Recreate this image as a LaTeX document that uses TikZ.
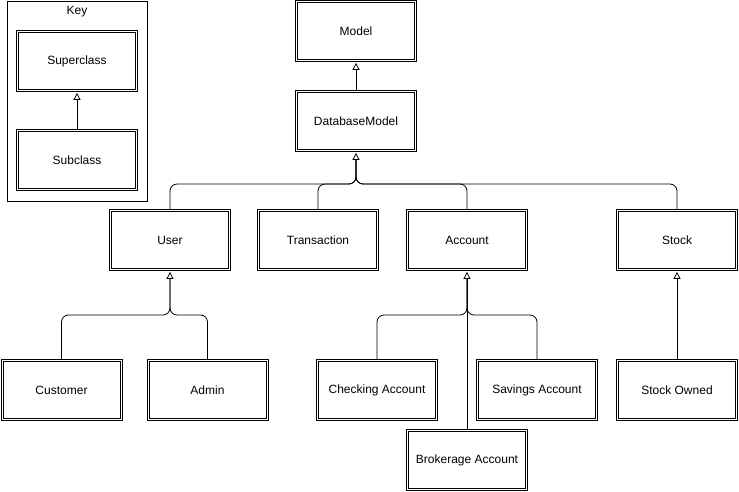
\documentclass[tikz,border=0pt]{standalone}
\usepackage{fontspec}
\setmainfont{Liberation Sans}
\usetikzlibrary{arrows.meta}
\begin{document}
\begin{tikzpicture}[x=1pt,y=-1pt,
  cls/.style={draw, line width=0.8pt,
    minimum width=121pt, minimum height=61pt, inner sep=0pt,
    font=\fontsize{12}{14}\selectfont,
    append after command={\pgfextra{\draw[line width=0.8pt]
      ([shift={(2.3pt,2.3pt)}]\tikzlastnode.south west) rectangle
      ([shift={(-2.3pt,-2.3pt)}]\tikzlastnode.north east);}}},
  edge/.style={line width=0.8pt, rounded corners=7pt,
    -{Triangle[open, length=7pt, width=7pt]}, shorten >=1pt},
  link/.style={line width=0.8pt, rounded corners=7pt, shorten >=8pt},
  plain/.style={line width=0.8pt, sharp corners,
    -{Triangle[open, length=7pt, width=7pt]}, shorten >=1pt}]
\useasboundingbox (0,0) rectangle (739,492);
% Key
\node[draw, line width=0.8pt, minimum width=140pt, minimum height=200pt, inner sep=0pt] (keybox) at (77,101) {};
\node[font=\fontsize{12}{14}\selectfont] (keylabel) at (77,12) {Key};
\node[cls] (super) at (77,61) {Superclass};
\node[cls] (sub) at (77,160) {Subclass};
\draw[plain] (sub.north) -- (super.south);
% Top
\node[cls] (model) at (356,31) {Model};
\node[cls] (db) at (356,121) {DatabaseModel};
\draw[plain] (db.north) -- (model.south);
% Level 2
\node[cls] (user) at (170,240) {User};
\node[cls] (trans) at (318,240) {Transaction};
\node[cls] (acct) at (467,240) {Account};
\node[cls] (stock) at (677,240) {Stock};
\coordinate (j1) at (356,184);
\draw[edge] (user.north) |- (j1) -- (db.south);
\draw[link] (trans.north) |- (j1) -- (db.south);
\draw[link] (acct.north) |- (j1) -- (db.south);
\draw[link] (stock.north) -- (stock.north |- j1) [rounded corners=7pt] -- (j1) -- (db.south);
% Level 3
\node[cls] (cust) at (61.5,390) {Customer};
\node[cls] (admin) at (207.5,390) {Admin};
\node[cls] (check) at (377,390) {Checking Account};
\node[cls] (sav) at (537,390) {Savings Account};
\node[cls] (owned) at (677,390) {Stock Owned};
\node[cls] (brok) at (467,460) {Brokerage Account};
\coordinate (j2) at (170,315);
\coordinate (j3) at (467,315);
\draw[edge] (cust.north) |- (j2) -- (user.south);
\draw[link] (admin.north) |- (j2) -- (user.south);
\draw[edge] (check.north) |- (j3) -- (acct.south);
\draw[link] (sav.north) |- (j3) -- (acct.south);
\draw[link, sharp corners] (brok.north) -- (acct.south);
\draw[plain] (owned.north) -- (stock.south);
\end{tikzpicture}
\end{document}
